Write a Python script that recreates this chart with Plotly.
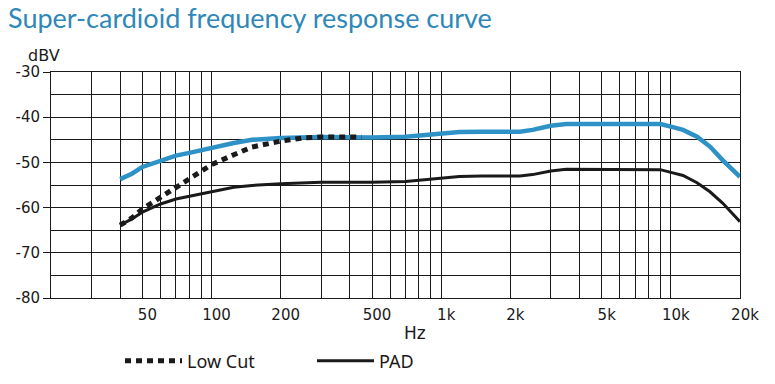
import math
import plotly.graph_objects as go

# ---- data ----
freq_main = [40, 45, 50, 60, 70, 80, 90, 100, 125, 150, 200, 300, 500, 700, 900,
             1000, 1200, 1500, 2000, 2200, 2500, 3000, 3500, 5000, 7000, 9000,
             10000, 11300, 13000, 14800, 16800, 20000]
normal_db = [-53.7, -52.5, -51.0, -49.6, -48.5, -47.9, -47.3, -46.8, -45.7, -45.0,
             -44.6, -44.4, -44.5, -44.3, -43.8, -43.6, -43.3, -43.2, -43.2, -43.2,
             -42.8, -41.9, -41.5, -41.5, -41.5, -41.5, -42.1, -42.8, -44.3, -46.5,
             -49.5, -53.2]
pad_db = [-63.9, -62.5, -61.0, -59.2, -58.1, -57.5, -56.9, -56.4, -55.5, -55.1,
          -54.7, -54.4, -54.4, -54.2, -53.7, -53.5, -53.1, -53.0, -53.0, -53.0,
          -52.7, -51.9, -51.5, -51.5, -51.5, -51.6, -52.2, -52.9, -54.5, -56.5,
          -59.0, -63.1]
freq_lowcut = [40, 45, 50, 60, 70, 80, 90, 100, 125, 150, 200, 250, 300, 400, 450]
lowcut_db = [-63.9, -62.3, -60.3, -57.8, -55.5, -53.8, -52.0, -50.5, -48.3, -46.6,
             -45.3, -44.6, -44.4, -44.4, -44.4]

x_label_vals = [50, 100, 200, 500, 1000, 2000, 5000, 10000, 20000]
x_label_text = ["50", "100", "200", "500", "1k", "2k", "5k", "10k", "20k"]
x_minor_vals = [30, 40, 60, 70, 80, 90, 300, 400, 600, 700, 800, 900,
                3000, 4000, 6000, 7000, 8000, 9000]
y_label_vals = [-80, -70, -60, -50, -40, -30]
y_label_text = ["-80", "-70", "-60", "-50", "-40", "-30"]

BLUE = "#2f92c6"
BLACK = "#1a1a1a"

fig = go.Figure()
fig.add_trace(go.Scatter(x=freq_main, y=normal_db, mode="lines", showlegend=False,
                         line=dict(color=BLUE, width=4.5), hoverinfo="skip"))
fig.add_trace(go.Scatter(x=freq_main, y=pad_db, mode="lines", name="PAD",
                         legendrank=2, line=dict(color=BLACK, width=3)))
fig.add_trace(go.Scatter(x=freq_lowcut, y=lowcut_db, mode="lines", name="Low Cut",
                         legendrank=1, line=dict(color=BLACK, width=5, dash="6px,5px")))

axis_font = dict(family="DejaVu Sans", size=15, color=BLACK)
fig.update_xaxes(type="log", range=[math.log10(20), math.log10(20000)],
                 tickvals=x_label_vals, ticktext=x_label_text, ticks="",
                 showgrid=True, gridcolor=BLACK, gridwidth=1,
                 minor=dict(tickvals=x_minor_vals, showgrid=True, gridcolor=BLACK,
                            gridwidth=1, ticks=""),
                 showline=True, linecolor=BLACK, linewidth=1, mirror=True,
                 tickfont=axis_font, ticklabelshift=5, ticklabelstandoff=3,
                 zeroline=False, automargin=False)
fig.update_yaxes(range=[-80, -30], tickvals=y_label_vals, ticktext=y_label_text,
                 ticks="outside", ticklen=7, tickcolor=BLACK, tickwidth=1,
                 showgrid=True, gridcolor=BLACK, gridwidth=1,
                 minor=dict(dtick=5, showgrid=True, gridcolor=BLACK, gridwidth=1, ticks=""),
                 showline=True, linecolor=BLACK, linewidth=1, mirror=True,
                 tickfont=axis_font, zeroline=False, automargin=False)

fig.update_layout(
    width=775, height=384,
    margin=dict(l=51, r=35, t=72, b=86, autoexpand=False),
    paper_bgcolor="white", plot_bgcolor="white",
    title=dict(text="Super-cardioid frequency response curve", x=8/775, xanchor="left",
               y=1 - 28/384, yanchor="bottom", automargin=False,
               font=dict(family="Lato", size=27, color="#2f88b8")),
    legend=dict(orientation="h", x=(120 - 51) / 689, xanchor="left",
                y=(298 - 361) / 226, yanchor="middle",
                font=dict(family="Noto Sans", size=18, color=BLACK),
                itemwidth=57, entrywidth=120, bgcolor="rgba(0,0,0,0)"),
    annotations=[
        dict(text="dBV", xref="paper", yref="paper", x=(26 - 51) / 689,
             y=(298 - 55) / 226, xanchor="left", yanchor="middle", showarrow=False,
             font=dict(family="DejaVu Sans", size=16, color=BLACK)),
        dict(text="Hz", xref="paper", yref="paper", x=(415 - 51) / 689, y=(298 - 333) / 226,
             xanchor="center", yanchor="middle", showarrow=False,
             font=dict(family="DejaVu Sans", size=17, color=BLACK)),
    ],
)
fig.write_html("out.html", post_script="document.body.style.margin='0';",
               config={"displayModeBar": False})
